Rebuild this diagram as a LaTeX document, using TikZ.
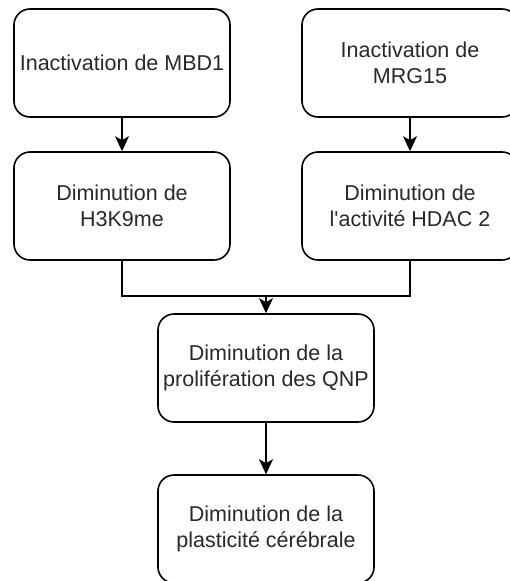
\documentclass[tikz,border=0pt]{standalone}
\usepackage{fontspec}
\setmainfont{Liberation Sans}[Ligatures=TeXOff]
\usetikzlibrary{arrows.meta}
\definecolor{txt}{RGB}{40,40,40}
\begin{document}
\begin{tikzpicture}[x=1pt,y=-1pt,
  stepbox/.style={draw=black, line width=1.6pt, rounded corners=16pt,
    minimum width=216pt, minimum height=108pt, inner sep=0pt,
    align=center, text=txt, font=\fontsize{21.5pt}{25.5pt}\selectfont},
  link/.style={draw=black, line width=1.6pt},
  arr/.style={link, -{Stealth[length=15pt,width=14pt,inset=4pt]}}]
\useasboundingbox (0,0) rectangle (509,581);
\node[stepbox] (a) at (122,63) {Inactivation de MBD1};
\node[stepbox] (b) at (410,63) {Inactivation de\\MRG15};
\node[stepbox] (c) at (122,206) {Diminution de\\H3K9me};
\node[stepbox] (d) at (410,206) {Diminution de\\l'activité HDAC 2};
\node[stepbox] (e) at (266,368) {Diminution de la\\prolifération des QNP};
\node[stepbox] (f) at (266,529) {Diminution de la\\plasticité cérébrale};
\coordinate (m) at (266,296);
\draw[arr] (a) -- (c);
\draw[arr] (b) -- (d);
\draw[link] (c.south) |- (m);
\draw[link] (d.south) |- (m);
\draw[arr] (m) -- (e.north);
\draw[arr] (e) -- (f);
\end{tikzpicture}
\end{document}
